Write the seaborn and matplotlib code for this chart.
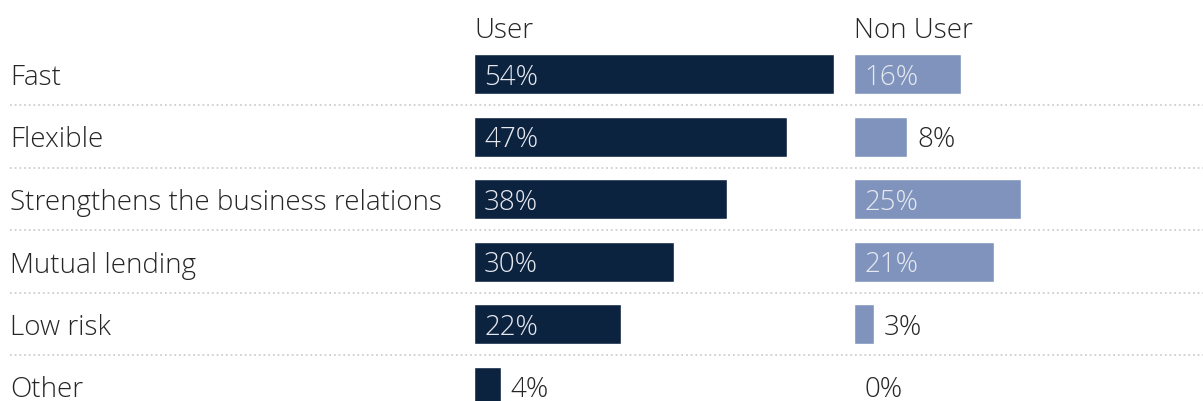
import matplotlib
matplotlib.use("Agg")
import matplotlib.pyplot as plt
import seaborn as sns
import pandas as pd

categories = ["Fast", "Flexible", "Strengthens the business relations",
              "Mutual lending", "Low risk", "Other"]
user = [54, 47, 38, 30, 22, 4]
non_user = [16, 8, 25, 21, 3, 0]
panel_titles = ["User", "Non User"]

NAVY = "#0c2340"
STEEL = "#7f93bd"
TEXT = "#262626"
FS = 20

sns.set_theme(style="white")
plt.rcParams["font.family"] = ["Open Sans", "DejaVu Sans"]
plt.rcParams["font.weight"] = "light"

W, H = 1203, 402
fig = plt.figure(figsize=(W / 100, H / 100), dpi=100)

# vertical layout shared by every axes (rows at integer positions, inverted)
row_px = 62.5
first_center = 75
top_px = first_center - row_px / 2
y_top = -0.5
y_bottom = (H - first_center) / row_px
ax_bottom = 0
ax_height = (H - top_px) / H
# baseline shift so that capitals sit centred on each row
base = 10 / row_px

# background axes for separators and category names
bg = fig.add_axes([10 / W, ax_bottom, 1 - 10 / W, ax_height])
bg.set_xlim(0, 1)
bg.set_ylim(y_bottom, y_top)
bg.axis("off")
for i in range(len(categories) - 1):
    bg.axhline(i + 0.5, color="#cfcfcf", lw=1.3, ls=(0, (1, 1.6)), zorder=0)
for i, c in enumerate(categories):
    bg.text(0, i + base, c, ha="left", va="baseline", fontsize=FS, color=TEXT)

px_per_pct = 360 / 54
panels = [
    (474, 844, user, NAVY, panel_titles[0]),
    (854, 1203, non_user, STEEL, panel_titles[1]),
]
for left, right, vals, color, title in panels:
    ax = fig.add_axes([left / W, ax_bottom, (right - left) / W, ax_height])
    df = pd.DataFrame({"category": categories, "value": vals})
    sns.barplot(data=df, x="value", y="category", orient="h", color=color,
                width=0.64, saturation=1, ax=ax, zorder=2)
    ax.set_xlim(0, (right - left) / px_per_pct)
    ax.set_ylim(y_bottom, y_top)
    ax.axis("off")
    ax.patch.set_alpha(0)
    for i, v in enumerate(vals):
        if v >= 10:
            ax.text(10 / px_per_pct, i + base, f"{v}%", ha="left", va="baseline",
                    fontsize=FS, color="#e6e9ef", zorder=3)
        else:
            ax.text(v + 10 / px_per_pct, i + base, f"{v}%", ha="left",
                    va="baseline", fontsize=FS, color=TEXT, zorder=3)
    fig.text(left / W, 1 - 38 / H, title, ha="left", va="baseline",
             fontsize=FS, color=TEXT)

fig.savefig("out.png", dpi=100)
